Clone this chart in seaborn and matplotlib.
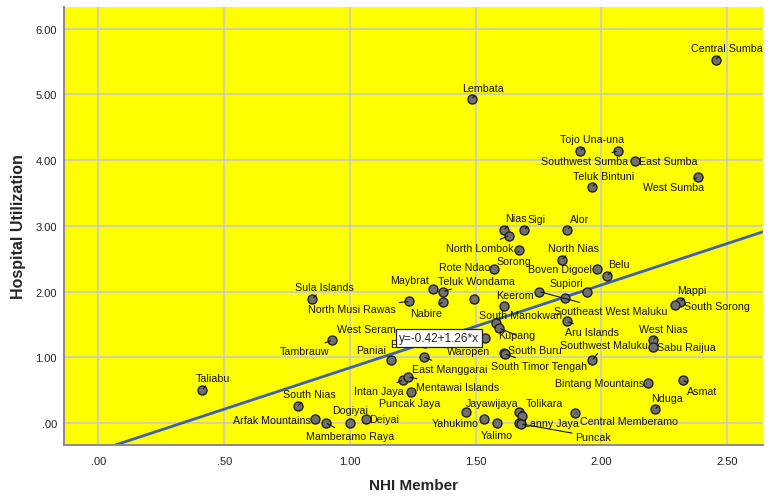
import matplotlib
matplotlib.use("Agg")
import matplotlib.pyplot as plt
import seaborn as sns
import pandas as pd
from matplotlib.ticker import FuncFormatter

# Regencies (labels as shown; "" = point with no visible label)
regencies = [
    "Central Sumba", "Lembata", "Tojo Una-una", "Southwest Sumba", "East Sumba",
    "Teluk Bintuni", "West Sumba", "Nias", "North Lombok", "Sigi",
    "Alor", "Sorong", "Rote Ndao", "North Nias", "Boven Digoel",
    "Belu", "Southeast West Maluku", "Supiori", "", "Keerom",
    "Maybrat", "Teluk Wondama", "Sula Islands", "North Musi Rawas", "Nabire",
    "", "Mappi", "South Sorong", "South Manokwari", "Kupang",
    "Waropen", "Aru Islands", "West Nias", "Sabu Raijua", "South Buru",
    "South Timor Tengah", "Southwest Maluku", "West Seram", "E", "Tambrauw",
    "Paniai", "East Manggarai", "Intan Jaya", "Mentawai Islands", "Puncak Jaya",
    "Taliabu", "South Nias", "Arfak Mountains", "Mamberamo Raya", "Dogiyai",
    "Deiyai", "Jayawijaya", "Yahukimo", "Yalimo", "Tolikara",
    "", "Lanny Jaya", "Puncak", "Central Memberamo", "Bintang Mountains",
    "Asmat", "Nduga",
]

nhi_member = [
    2.454, 1.484, 1.915, 2.064, 2.133,
    1.963, 2.384, 1.612, 1.633, 1.693,
    1.864, 1.673, 1.573, 1.843, 1.983,
    2.023, 1.753, 1.855, 1.944, 1.612,
    1.331, 1.371, 0.851, 1.235, 1.371,
    1.493, 2.313, 2.293, 1.581, 1.594,
    1.537, 1.864, 2.204, 2.204, 1.612,
    1.616, 1.963, 1.240, 1.300, 0.927,
    1.162, 1.293, 1.210, 1.232, 1.243,
    0.413, 0.792, 0.862, 0.905, 1.001,
    1.062, 1.461, 1.534, 1.583, 1.673,
    1.685, 1.673, 1.681, 1.893, 2.184,
    2.323, 2.213,
]

hospital_util = [
    5.525, 4.932, 4.135, 4.140, 3.988,
    3.592, 3.740, 2.938, 2.851, 2.942,
    2.942, 2.638, 2.344, 2.486, 2.344,
    2.242, 1.998, 1.898, 1.998, 1.785,
    2.040, 1.998, 1.892, 1.852, 1.846,
    1.892, 1.842, 1.791, 1.517, 1.441,
    1.294, 1.548, 1.259, 1.157, 1.065,
    1.050, 0.954, 1.310, 1.220, 1.259,
    0.954, 1.009, 0.654, 0.700, 0.464,
    0.507, 0.254, 0.061, 0.000, 0.000,
    0.061, 0.163, 0.061, 0.000, 0.163,
    0.102, 0.000, -0.015, 0.157, 0.604,
    0.654, 0.209,
]

fit_intercept = -0.42
fit_slope = 1.26

x_ticks = [0.0, 0.5, 1.0, 1.5, 2.0, 2.5]
y_ticks = [0, 1, 2, 3, 4, 5, 6]

# label placement (pixel offset from point, alignment, leader line)
label_layout = [
    (11, 12, "center", True), (11, 11, "center", True), (12, 12, "center", True),
    (-33, -10, "center", True), (4, 0, "left", False),
    (11, 11, "center", True), (-24, -10, "center", True), (12, 12, "center", True),
    (-29, -12, "center", True), (12, 11, "center", True),
    (12, 11, "center", True), (-5, -11, "center", True), (-4, 2, "right", False),
    (12, 12, "center", True), (-5, 0, "right", False),
    (12, 12, "center", True), (71, -19, "center", True), (1, 15, "center", False),
    (0, 0, "center", False), (30, 11, "right", False),
    (-4, 9, "right", False), (33, 11, "center", True), (12, 12, "center", True),
    (-57, -8, "center", True), (-17, -11, "center", True),
    (0, 0, "center", False), (12, 12, "center", True), (9, -1, "left", False),
    (24, 8, "center", False), (17, -7, "center", True),
    (-16, -13, "center", False), (25, -11, "center", True), (11, 11, "center", True),
    (4, 0, "left", False), (4, 3, "left", False),
    (34, -12, "center", True), (12, 15, "center", True), (-44, 8, "center", False),
    (-35, -1, "left", False), (-27, -11, "center", True),
    (-5, 10, "right", False), (26, -12, "center", True), (-24, -11, "center", True),
    (49, -10, "center", True), (-1, -11, "center", False),
    (11, 12, "center", True), (12, 12, "center", True), (-4, -1, "right", False),
    (24, -13, "center", True), (0, 13, "center", False),
    (4, 0, "left", False), (26, 9, "center", False), (-5, -4, "right", False),
    (0, -12, "center", False), (25, 9, "center", True),
    (0, 0, "center", False), (5, 0, "left", False), (72, -13, "center", True),
    (54, -8, "center", True), (-4, 0, "right", False),
    (19, -11, "center", True), (12, 11, "center", True),
]

df = pd.DataFrame({"Regency": regencies, "NHI Member": nhi_member,
                   "Hospital Utilization": hospital_util})

sns.set_style("white")
plt.rcParams["font.family"] = ["Liberation Sans", "DejaVu Sans"]

fig = plt.figure(figsize=(7.73, 5.02), dpi=100)
ax = fig.add_axes([0.0828, 0.1116, 0.9042, 0.8725])
ax.set_facecolor("#FFFF00")

sns.scatterplot(data=df, x="NHI Member", y="Hospital Utilization", ax=ax,
                s=42, color="#707070", edgecolor="#202020", linewidth=1.0, zorder=3)

ax.axline((0, fit_intercept), slope=fit_slope, color="#3F5FB5", lw=2.0, zorder=2)

for name, xv, yv, (dx, dy, ha, leader) in zip(regencies, nhi_member, hospital_util, label_layout):
    if not name:
        continue
    arrow = None
    if leader:
        arrow = dict(arrowstyle="-", color="#111111", lw=0.8, shrinkA=0, shrinkB=1)
    ax.annotate(name, (xv, yv), xytext=(dx, dy), textcoords="offset pixels",
                ha=ha, va="center", fontsize=7.7, color="#111111",
                arrowprops=arrow, zorder=4)

# fit equation box
ax.text(1.354, 1.298, "y=-0.42+1.26*x", fontsize=8.5, ha="center", va="center",
        zorder=6, bbox=dict(boxstyle="square,pad=0.25", fc="white", ec="#222222", lw=0.9))

ax.set_xlim(-0.137, 2.642)
ax.set_ylim(-0.335, 6.33)
ax.set_xticks(x_ticks)
ax.set_yticks(y_ticks)
fmt = FuncFormatter(lambda v, p: f"{v:.2f}"[1:] if abs(v) < 1 else f"{v:.2f}")
ax.xaxis.set_major_formatter(fmt)
ax.yaxis.set_major_formatter(fmt)
ax.tick_params(length=0, labelsize=8, colors="#222222")
ax.tick_params(axis="x", pad=8)
ax.tick_params(axis="y", pad=5)
ax.grid(True, color="#C8C8C8", lw=1.2, zorder=0)
ax.set_axisbelow(True)

for side in ["top", "right"]:
    ax.spines[side].set_visible(False)
for side in ["left", "bottom"]:
    ax.spines[side].set_color("#8A8A8A")
    ax.spines[side].set_linewidth(1.4)

ax.set_xlabel("NHI Member", fontsize=11, fontweight="bold")
ax.set_ylabel("Hospital Utilization", fontsize=11.5, fontweight="bold")
ax.xaxis.set_label_coords(0.5, -0.075)
ax.yaxis.set_label_coords(-0.055, 0.5)

fig.savefig("out.png", dpi=100, facecolor="white")
